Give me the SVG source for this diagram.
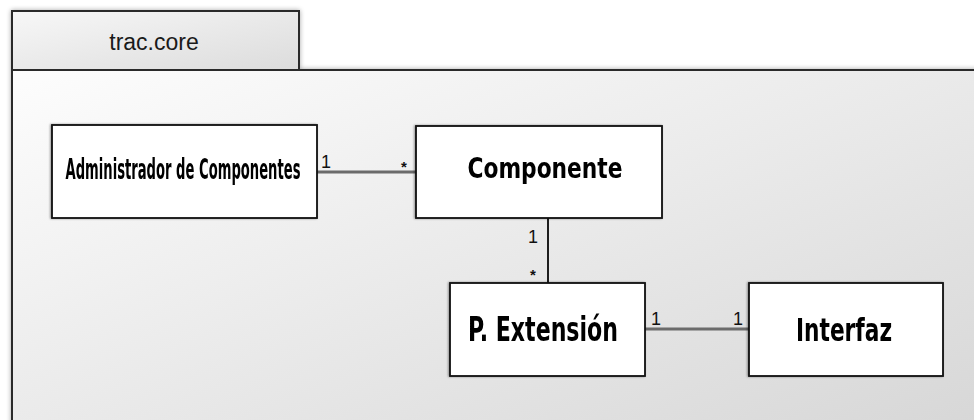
<svg xmlns="http://www.w3.org/2000/svg" width="974" height="420" viewBox="0 0 974 420">
  <defs>
    <linearGradient id="bodyFill" x1="0" y1="0" x2="1" y2="1">
      <stop offset="0" stop-color="#fdfdfd"/>
      <stop offset="1" stop-color="#d6d6d6"/>
    </linearGradient>
    <linearGradient id="tabFill" x1="0" y1="0" x2="1" y2="1">
      <stop offset="0" stop-color="#f7f7f7"/>
      <stop offset="1" stop-color="#dcdcdc"/>
    </linearGradient>
    <filter id="soft" x="-5%" y="-10%" width="110%" height="120%">
      <feGaussianBlur in="SourceAlpha" stdDeviation="2.5"/>
      <feComponentTransfer><feFuncA type="linear" slope="0.35"/></feComponentTransfer>
      <feMerge><feMergeNode/><feMergeNode in="SourceGraphic"/></feMerge>
    </filter>
    <filter id="edge" x="-5%" y="-5%" width="110%" height="110%">
      <feGaussianBlur in="SourceAlpha" stdDeviation="1"/>
      <feOffset dx="-1" dy="0"/>
      <feComponentTransfer><feFuncA type="linear" slope="0.4"/></feComponentTransfer>
      <feMerge><feMergeNode/><feMergeNode in="SourceGraphic"/></feMerge>
    </filter>
  </defs>
  <style>
    .pkg { stroke: #2b2b2b; stroke-width: 2; }
    .box { fill: #ffffff; stroke: #111111; stroke-width: 1.8; }
    .name { font-family: "DejaVu Sans Condensed", "DejaVu Sans", sans-serif; font-weight: bold; fill: #000000; text-anchor: middle; }
    .mult { font-family: "Liberation Sans", Arial, sans-serif; fill: #111111; font-size: 18px; }
    .star { font-family: "Liberation Sans", Arial, sans-serif; font-weight: bold; fill: #111111; font-size: 15px; }
    .assoc { stroke: #6b6b6b; stroke-width: 3; fill: none; }
    .assoc-v { stroke: #1e1e1e; stroke-width: 2; fill: none; }
  </style>

  <rect width="974" height="420" fill="#ffffff"/>

  <!-- package trac.core -->
  <g id="package" filter="url(#soft)">
    <rect class="pkg" x="12" y="70" width="980" height="370" fill="url(#bodyFill)"/>
    <rect class="pkg" x="12" y="11" width="287" height="59" fill="url(#tabFill)"/>
  </g>
  <text x="154" y="50" font-family="Liberation Sans, Arial, sans-serif" font-size="23" fill="#1a1a1a" text-anchor="middle">trac.core</text>

  <!-- associations -->
  <g id="connectors">
    <line class="assoc" x1="317" y1="172" x2="416" y2="172"/>
    <line class="assoc-v" x1="548" y1="218" x2="548" y2="283"/>
    <line class="assoc" x1="645" y1="329" x2="749" y2="329"/>
    <text class="mult" x="321" y="168">1</text>
    <text class="star" x="401" y="172">*</text>
    <text class="mult" x="538" y="243" text-anchor="end">1</text>
    <text class="star" x="530" y="280">*</text>
    <text class="mult" x="651" y="325">1</text>
    <text class="mult" x="733" y="325">1</text>
  </g>

  <g id="administrador" filter="url(#edge)">
    <rect class="box" x="52" y="125" width="265" height="93"/>
    <text class="name" x="183" y="179" font-size="28" textLength="235" lengthAdjust="spacingAndGlyphs">Administrador de Componentes</text>
  </g>

  <g id="componente" filter="url(#edge)">
    <rect class="box" x="416" y="126" width="246" height="92"/>
    <text class="name" x="545" y="178" font-size="29" textLength="155" lengthAdjust="spacingAndGlyphs">Componente</text>
  </g>

  <g id="punto-extension" filter="url(#edge)">
    <rect class="box" x="450" y="283" width="195" height="93"/>
    <text class="name" x="543" y="341" font-size="33" textLength="150" lengthAdjust="spacingAndGlyphs">P. Extensión</text>
  </g>

  <g id="interfaz" filter="url(#edge)">
    <rect class="box" x="749" y="283" width="194" height="93"/>
    <text class="name" x="844" y="341" font-size="32" textLength="96" lengthAdjust="spacingAndGlyphs">Interfaz</text>
  </g>
</svg>
